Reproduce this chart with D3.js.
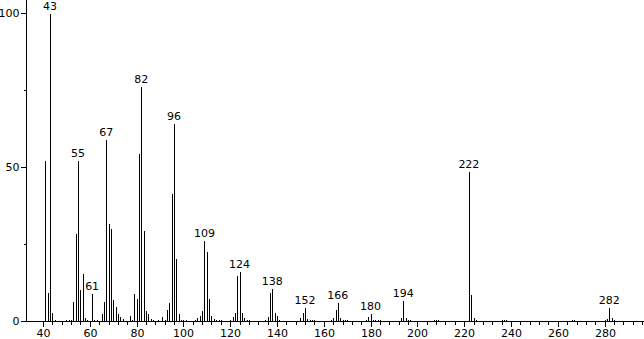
<!DOCTYPE html>
<html>
<head>
<meta charset="utf-8">
<script src="https://cdn.jsdelivr.net/npm/d3@7/dist/d3.min.js"></script>
<style>
  html, body { margin: 0; padding: 0; background: #fff; }
  svg { display: block; }
  text { font-family: "DejaVu Sans", sans-serif; font-size: 11px; fill: #000; }
</style>
</head>
<body>
<svg id="chart" width="644" height="339"></svg>
<script>
// ---- data ----
const mz = [41, 42, 43, 44, 45, 50, 51, 52, 53, 54, 55, 56, 57, 58, 59, 61, 62, 63, 65, 66,
  67, 68, 69, 70, 71, 72, 73, 74, 77, 78, 79, 80, 81, 82, 83, 84, 85, 86, 87, 89,
  91, 92, 93, 94, 95, 96, 97, 98, 99, 100, 101, 105, 106, 107, 108, 109, 110, 111, 112, 113,
  114, 115, 116, 120, 121, 122, 123, 124, 125, 126, 127, 128, 129, 135, 136, 137, 138, 139, 140, 141,
  150, 151, 152, 153, 154, 155, 156, 163, 164, 165, 166, 167, 168, 169, 170, 178, 179, 180, 181, 182,
  183, 184, 193, 194, 195, 196, 197, 198, 207, 208, 209, 222, 223, 224, 225, 236, 237, 238, 239, 266,
  267, 280, 281, 282, 283, 284];
const intensity = [52.2, 9.3, 100, 2.8, 0.6, 0.6, 0.8, 0.8, 6.5, 28.5, 52.2, 10.4, 15.6, 1.2, 0.6, 9.1, 0.5, 0.5, 2.7, 6.5,
  59, 31.7, 30.2, 7, 5, 2.5, 1.5, 1, 1.8, 0.8, 9, 7.5, 54.3, 76.2, 29.5, 3.6, 2.5, 0.9, 0.5, 0.6,
  1.6, 0.5, 4, 6, 41.4, 64.1, 20.3, 2.7, 0.6, 0.6, 0.6, 0.8, 1.2, 1.8, 3.5, 26.3, 22.6, 7.6, 1.9, 1,
  0.6, 0.6, 0.5, 0.8, 1.5, 3, 14.8, 16.2, 3, 1.2, 0.8, 0.6, 0.4, 0.8, 1.6, 9.5, 10.6, 3, 2, 0.6,
  1.2, 3, 4.4, 1, 0.8, 0.7, 0.5, 0.5, 1.4, 3.8, 6, 1.4, 0.6, 0.5, 0.5, 0.5, 1.7, 2.7, 0.8, 0.6,
  0.5, 0.5, 1.4, 6.8, 1.4, 0.8, 0.5, 0.4, 0.6, 0.5, 0.6, 48.6, 8.8, 1.4, 0.5, 0.5, 0.7, 0.5, 0.4, 0.5,
  0.5, 0.6, 1, 4.7, 1.2, 0.5];
const labeledPeaks = [43, 55, 61, 67, 82, 96, 109, 124, 138, 152, 166, 180, 194, 222, 282];
const xMajorTicks = [40, 60, 80, 100, 120, 140, 160, 180, 200, 220, 240, 260, 280];
const xMinorTicks = d3.range(40, 297, 4);
const yMajorTicks = [0, 50, 100];
const yMinorTicks = [25, 75];

// ---- layout ----
const W = 644, H = 339;
const axisX = 26.5, baseY = 321.5;
const x = d3.scaleLinear().domain([40, 280]).range([43, 604.6]);
const y = d3.scaleLinear().domain([0, 100]).range([321, 12.5]);
const svg = d3.select("#chart");
const px = v => Math.round(x(v)) + 0.5;

// bars
svg.append("g").selectAll("line").data(mz.map((m, i) => ({ m, v: intensity[i] })))
  .join("line")
  .attr("x1", d => px(d.m)).attr("x2", d => px(d.m))
  .attr("y1", baseY).attr("y2", d => Math.round(y(d.v)) + 0.5)
  .attr("stroke", "#000").attr("stroke-width", 1).attr("shape-rendering", "crispEdges");

// peak labels
svg.append("g").selectAll("text").data(labeledPeaks)
  .join("text")
  .attr("x", d => x(d))
  .attr("y", d => y(intensity[mz.indexOf(d)]) - 3)
  .attr("text-anchor", "middle")
  .text(d => d);

// x axis
const gx = svg.append("g").attr("transform", `translate(0,${baseY})`);
gx.append("line").attr("x1", axisX).attr("x2", W).attr("y1", 0).attr("y2", 0)
  .attr("stroke", "#000").attr("shape-rendering", "crispEdges");
const xMinor = gx.append("g").call(d3.axisBottom(x).tickValues(xMinorTicks).tickSize(3).tickFormat(""));
const xMajor = gx.append("g").call(d3.axisBottom(x).tickValues(xMajorTicks).tickSize(5).tickPadding(3));
[xMinor, xMajor].forEach(g => {
  g.select(".domain").remove();
  g.selectAll(".tick line").attr("stroke", "#000").attr("shape-rendering", "crispEdges");
  g.selectAll(".tick").attr("transform", d => `translate(${px(d)},0)`);
});
xMajor.selectAll(".tick text").attr("font-size", 11).attr("font-family", "DejaVu Sans, sans-serif").attr("fill", "#000");

// y axis
const gy = svg.append("g").attr("transform", `translate(${axisX},0)`);
gy.append("line").attr("x1", 0).attr("x2", 0).attr("y1", 0).attr("y2", baseY)
  .attr("stroke", "#000").attr("shape-rendering", "crispEdges");
const yMinor = gy.append("g").call(d3.axisLeft(y).tickValues(yMinorTicks).tickSize(3).tickFormat(""));
const yMajor = gy.append("g").call(d3.axisLeft(y).tickValues(yMajorTicks).tickSize(6).tickPadding(1));
[yMinor, yMajor].forEach(g => {
  g.select(".domain").remove();
  g.selectAll(".tick line").attr("stroke", "#000").attr("shape-rendering", "crispEdges");
  g.selectAll(".tick").attr("transform", d => `translate(0,${Math.round(y(d)) + 0.5})`);
});
yMajor.selectAll(".tick text").attr("font-size", 11).attr("font-family", "DejaVu Sans, sans-serif").attr("fill", "#000");
</script>
</body>
</html>
